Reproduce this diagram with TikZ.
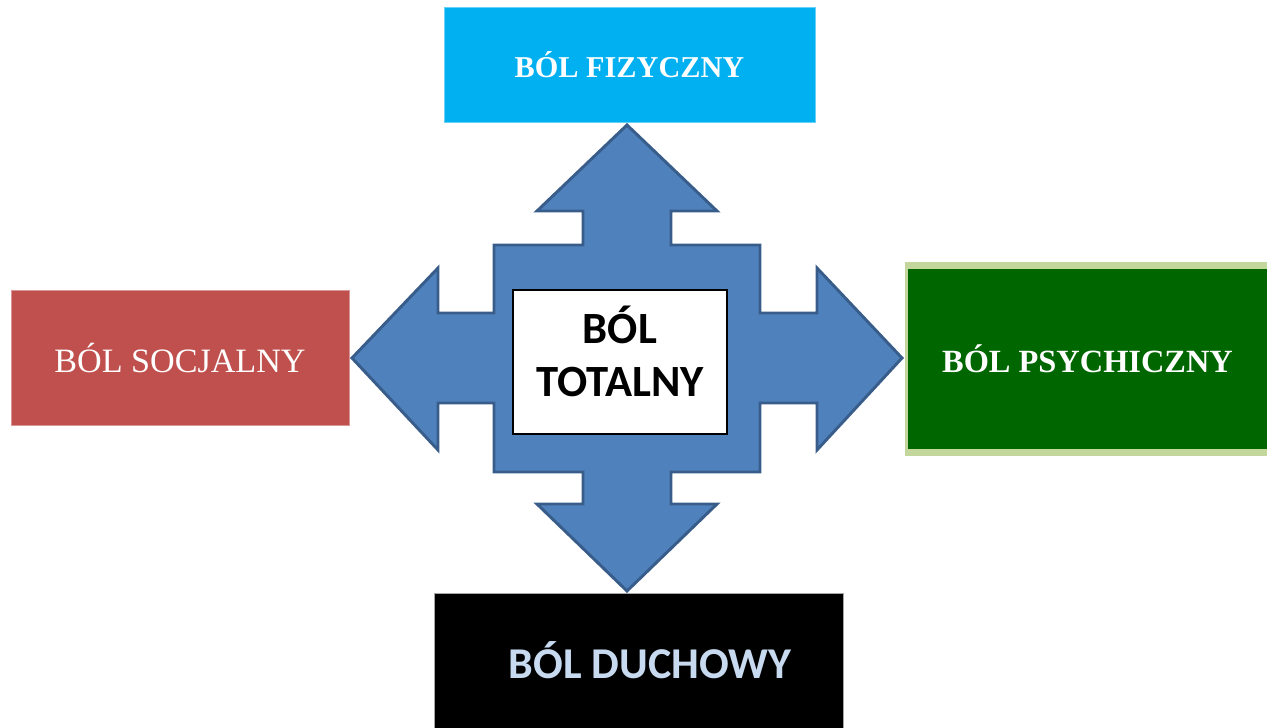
\documentclass[tikz,border=0pt]{standalone}
\usepackage{fontspec}
\setmainfont{Liberation Serif}
\newfontfamily\calibri{Carlito}
\definecolor{arrowblue}{RGB}{79,129,189}
\definecolor{arrowedge}{RGB}{56,93,138}
\definecolor{cyanbox}{RGB}{0,176,240}
\definecolor{redbox}{RGB}{192,80,77}
\definecolor{greenbox}{RGB}{0,102,0}
\definecolor{greenedge}{RGB}{195,214,155}
\definecolor{duchtext}{RGB}{200,218,240}
\newcommand{\px}{0.75pt}
\tikzset{
    painbox/.style={inner sep=0pt, text=white, align=center},
}
\begin{document}
\begin{tikzpicture}[x=\px, y=-\px]
\useasboundingbox (0,0) rectangle (1267,728);

% four-way arrow
\draw[fill=arrowblue, draw=arrowedge, line width=2.2pt, line join=miter]
    (494,245)--(583,245)--(583,211)--(537,211)--(627,125)--(717,211)--(671,211)--(671,245)
    --(760,245)--(760,313)--(817,313)--(817,268)--(902,358)--(817,450)--(817,403)--(760,403)
    --(760,472)--(671,472)--(671,504)--(717,504)--(627,591)--(537,504)--(583,504)--(583,472)
    --(494,472)--(494,403)--(438,403)--(438,450)--(352,358)--(438,268)--(438,313)--(494,313)--cycle;

\node[draw=black, fill=white, line width=1.1pt, minimum width=214*\px, minimum height=144*\px,
    inner sep=0pt, align=center, text depth=16pt, font=\calibri\bfseries\fontsize{33.5}{40}\selectfont]
    (totalny) at (620,362) {B\'OL\\TOTALNY};

\node[painbox, fill=cyanbox, draw=cyanbox!60, minimum width=371*\px, minimum height=115*\px,
    font=\bfseries\fontsize{22.7}{27}\selectfont]
    (fizyczny) at (629.5,64.5) {B\'OL FIZYCZNY};

\node[painbox, fill=redbox, draw=redbox!60, minimum width=338*\px, minimum height=135*\px,
    font=\fontsize{25.6}{30}\selectfont]
    (socjalny) at (180,358) {B\'OL SOCJALNY};

\fill[greenedge] (905,262) rectangle (1275,456);
\node[painbox, fill=greenbox, minimum width=367*\px, minimum height=180*\px,
    font=\bfseries\fontsize{24.3}{29}\selectfont]
    (psychiczny) at (1091.5,359) {B\'OL PSYCHICZNY\hspace*{6pt}};

\node[painbox, fill=black, draw=gray!70, text=duchtext, minimum width=409*\px, minimum height=135*\px,
    font=\calibri\bfseries\fontsize{33}{39}\selectfont]
    (duchowy) at (638.5,660.5) {\hspace*{17pt}B\'OL DUCHOWY};
\end{tikzpicture}
\end{document}
